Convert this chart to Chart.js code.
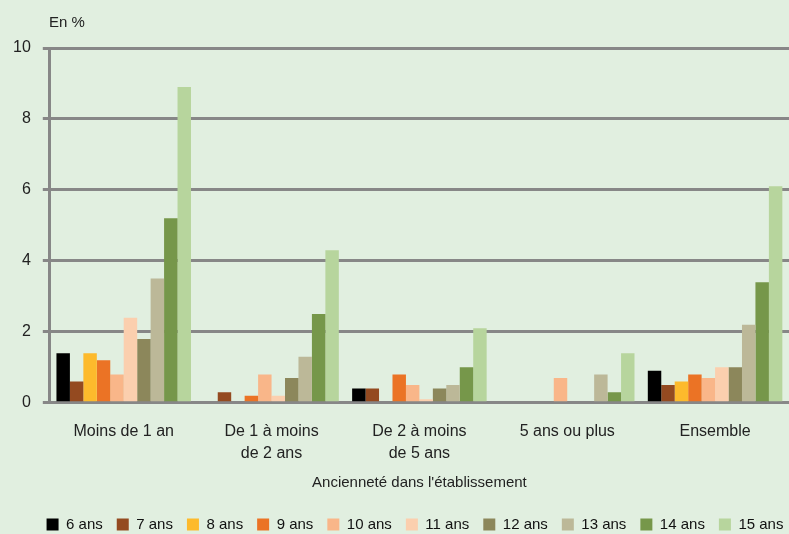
<!DOCTYPE html>
<html lang="fr">
<head>
    <meta charset="UTF-8">
    <title>Ancienneté dans l'établissement</title>
    <style>
        html, body {
            margin: 0;
            padding: 0;
            background: #e1efe0;
        }
        .wrap {
            width: 789px;
            height: 534px;
        }
    </style>
</head>
<body>
    <div class="wrap">
        <canvas id="chart"></canvas>
    </div>

    <script src="https://cdn.jsdelivr.net/npm/chart.js"></script>
    <script>
        // Données
        const categories = [
            'Moins de 1 an',
            ['De 1 à moins', 'de 2 ans'],
            ['De 2 à moins', 'de 5 ans'],
            '5 ans ou plus',
            'Ensemble'
        ];
        const seriesNames = ['6 ans', '7 ans', '8 ans', '9 ans', '10 ans', '11 ans', '12 ans', '13 ans', '14 ans', '15 ans'];
        const age6  = [1.4, 0,   0.4, 0,   0.9];
        const age7  = [0.6, 0.3, 0.4, 0,   0.5];
        const age8  = [1.4, 0,   0,   0,   0.6];
        const age9  = [1.2, 0.2, 0.8, 0,   0.8];
        const age10 = [0.8, 0.8, 0.5, 0.7, 0.7];
        const age11 = [2.4, 0.2, 0.1, 0,   1.0];
        const age12 = [1.8, 0.7, 0.4, 0,   1.0];
        const age13 = [3.5, 1.3, 0.5, 0.8, 2.2];
        const age14 = [5.2, 2.5, 1.0, 0.3, 3.4];
        const age15 = [8.9, 4.3, 2.1, 1.4, 6.1];
        const yTicks = [0, 2, 4, 6, 8, 10];

        const values = [age6, age7, age8, age9, age10, age11, age12, age13, age14, age15];
        const colors = ['#000000', '#944a20', '#fdba2c', '#eb7325', '#f9b689', '#fbcfae',
                        '#8c875b', '#bcb898', '#76974a', '#b7d59d'];

        const gridColor = '#878787';
        const font = "'Liberation Sans', Arial, sans-serif";

        // "En %" en haut de l'axe + légende un peu décalée à droite
        const extras = {
            id: 'extras',
            afterLayout(chart) {
                chart.legend.left += 20;
                chart.legend.right += 20;
            },
            afterDraw(chart) {
                const c = chart.ctx;
                c.save();
                c.fillStyle = '#222';
                c.font = '15px ' + font;
                c.textBaseline = 'middle';
                c.fillText('En %', 49, 23);
                c.restore();
            }
        };

        new Chart(document.getElementById('chart'), {
            type: 'bar',
            data: {
                labels: categories,
                datasets: values.map((v, i) => ({
                    label: seriesNames[i],
                    data: v,
                    backgroundColor: colors[i],
                    borderWidth: 0,
                    barPercentage: 1,
                    categoryPercentage: 0.91
                }))
            },
            options: {
                responsive: true,
                maintainAspectRatio: false,
                animation: false,
                layout: {
                    padding: { top: 48, right: 0, left: 1, bottom: -8 }
                },
                plugins: {
                    tooltip: { enabled: false },
                    legend: {
                        position: 'bottom',
                        labels: {
                            font: { family: font, size: 15 },
                            color: '#111',
                            boxWidth: 12,
                            boxHeight: 12,
                            padding: 14
                        }
                    }
                },
                scales: {
                    x: {
                        grid: { display: false },
                        border: { display: false },
                        ticks: {
                            font: { family: font, size: 16, lineHeight: 1.35 },
                            color: '#222',
                            maxRotation: 0,
                            padding: 10
                        },
                        title: {
                            display: true,
                            text: "Ancienneté dans l'établissement",
                            font: { family: font, size: 15 },
                            color: '#222',
                            padding: { top: 0, bottom: 11 }
                        }
                    },
                    y: {
                        min: 0,
                        max: 10,
                        afterBuildTicks(scale) {
                            scale.ticks = yTicks.map(v => ({ value: v }));
                        },
                        grid: {
                            color: gridColor,
                            lineWidth: 3,
                            tickLength: 7
                        },
                        border: { color: gridColor, width: 3 },
                        ticks: {
                            font: { family: font, size: 16 },
                            color: '#222',
                            padding: 12
                        }
                    }
                }
            },
            plugins: [extras]
        });
    </script>
</body>
</html>
